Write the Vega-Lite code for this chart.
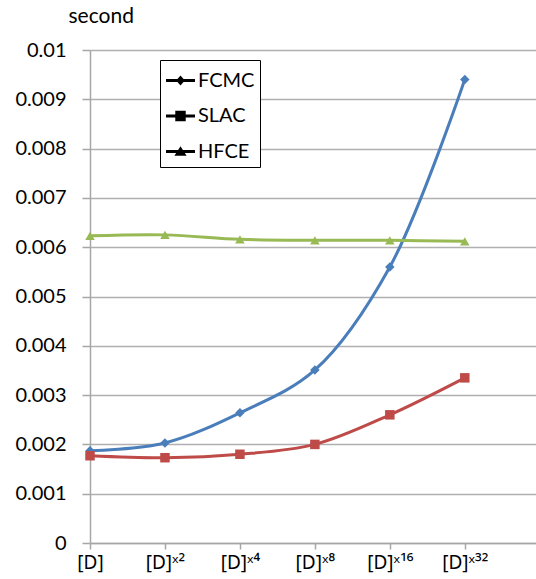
{
  "$schema": "https://vega.github.io/schema/vega-lite/v6.json",
  "width": 446,
  "height": 493,
  "autosize": "none",
  "padding": {"left": 90, "top": 50, "right": 0, "bottom": 36},
  "background": "white",
  "config": {
    "view": {"stroke": null},
    "font": "Lato",
    "axis": {"labelFont": "Lato", "titleFont": "Lato"}
  },
  "data": {
    "values": [
      {"idx": 0, "series": "FCMC", "value": 0.00187},
      {"idx": 1, "series": "FCMC", "value": 0.00203},
      {"idx": 2, "series": "FCMC", "value": 0.00264},
      {"idx": 3, "series": "FCMC", "value": 0.00351},
      {"idx": 4, "series": "FCMC", "value": 0.0056},
      {"idx": 5, "series": "FCMC", "value": 0.0094},
      {"idx": 0, "series": "SLAC", "value": 0.00177},
      {"idx": 1, "series": "SLAC", "value": 0.00173},
      {"idx": 2, "series": "SLAC", "value": 0.0018},
      {"idx": 3, "series": "SLAC", "value": 0.002},
      {"idx": 4, "series": "SLAC", "value": 0.0026},
      {"idx": 5, "series": "SLAC", "value": 0.00335},
      {"idx": 0, "series": "HFCE", "value": 0.00623},
      {"idx": 1, "series": "HFCE", "value": 0.00625},
      {"idx": 2, "series": "HFCE", "value": 0.00616},
      {"idx": 3, "series": "HFCE", "value": 0.00614},
      {"idx": 4, "series": "HFCE", "value": 0.00614},
      {"idx": 5, "series": "HFCE", "value": 0.00612}
    ]
  },
  "encoding": {
    "x": {
      "field": "idx",
      "type": "quantitative",
      "scale": {"domain": [0, 5.95], "nice": false, "zero": false},
      "axis": {
        "title": null,
        "values": [0, 1, 2, 3, 4, 5],
        "labelExpr": "['[D]','[D]ˣ²','[D]ˣ⁴','[D]ˣ⁸','[D]ˣ¹⁶','[D]ˣ³²'][datum.value]",
        "labelFont": "Noto Sans",
        "labelFontSize": 19,
        "labelColor": "black",
        "labelPadding": 4,
        "labelFlush": false,
        "labelOverlap": false,
        "grid": false,
        "domainColor": "#a6a6a6",
        "domainWidth": 1.5,
        "tickColor": "#a6a6a6",
        "tickWidth": 1.5,
        "tickSize": 6
      }
    },
    "y": {
      "field": "value",
      "type": "quantitative",
      "scale": {"domain": [0, 0.01], "nice": false},
      "axis": {
        "title": "second",
        "titleAngle": 0,
        "titleAlign": "left",
        "titleBaseline": "middle",
        "titleX": -22,
        "titleY": -34,
        "titleFontSize": 21,
        "titleFontWeight": "normal",
        "titleColor": "black",
        "values": [0, 0.001, 0.002, 0.003, 0.004, 0.005, 0.006, 0.007, 0.008, 0.009, 0.01],
        "format": ".3~f",
        "labelFontSize": 20,
        "labelColor": "black",
        "labelPadding": 16,
        "grid": true,
        "gridColor": "#b0b0b0",
        "gridWidth": 1.5,
        "domainColor": "#a6a6a6",
        "domainWidth": 1.5,
        "tickColor": "#a6a6a6",
        "tickWidth": 1.5,
        "tickSize": 8
      }
    },
    "color": {
      "field": "series",
      "type": "nominal",
      "scale": {"domain": ["FCMC", "SLAC", "HFCE"], "range": ["#4a7ebb", "#be4b48", "#98b954"]},
      "legend": null
    }
  },
  "layer": [
    {
      "mark": {"type": "line", "interpolate": "catmull-rom", "strokeWidth": 3}
    },
    {
      "mark": {"type": "point", "filled": true, "opacity": 1, "size": 90},
      "encoding": {
        "shape": {
          "field": "series",
          "type": "nominal",
          "scale": {"domain": ["FCMC", "SLAC", "HFCE"], "range": ["diamond", "square", "triangle-up"]},
          "legend": null
        }
      }
    },
    {
      "mark": {"type": "point", "filled": true, "opacity": 1, "size": 0},
      "encoding": {
        "color": {
          "field": "series",
          "type": "nominal",
          "scale": {"domain": ["FCMC", "SLAC", "HFCE"], "range": ["#4a7ebb", "#be4b48", "#98b954"]},
          "legend": {
            "orient": "none",
            "legendX": 70,
            "legendY": 10,
            "title": null,
            "strokeColor": "black",
            "fillColor": "white",
            "padding": 5,
            "symbolSize": 841,
            "rowPadding": 9.5,
            "labelFontSize": 20,
            "labelFont": "Lato",
            "labelColor": "black",
            "labelOffset": 2,
            "encode": {
              "legend": {
                "update": {
                  "stroke": {"value": "black"},
                  "strokeWidth": {"value": 2.5}
                }
              },
              "symbols": {
                "update": {
                  "size": {"value": 841},
                  "stroke": {"value": "transparent"},
                  "strokeWidth": {"value": 0},
                  "opacity": {"value": 1}
                }
              }
            }
          }
        },
        "shape": {
          "field": "series",
          "type": "nominal",
          "scale": {
            "domain": ["FCMC", "SLAC", "HFCE"],
            "range": [
              "M-1,-0.1H1V0.1H-1Z M0,-0.34L0.3,0L0,0.34L-0.3,0Z",
              "M-1,-0.1H1V0.1H-1Z M-0.36,-0.36H0.36V0.36H-0.36Z",
              "M-1,-0.1H1V0.1H-1Z M0,-0.36L0.42,0.3L-0.42,0.3Z"
            ]
          },
          "legend": {
            "orient": "none",
            "legendX": 70,
            "legendY": 10,
            "title": null,
            "strokeColor": "black",
            "fillColor": "white",
            "padding": 5,
            "symbolSize": 841,
            "rowPadding": 9.5,
            "labelFontSize": 20,
            "labelFont": "Lato",
            "labelColor": "black",
            "labelOffset": 2,
            "encode": {
              "legend": {
                "update": {
                  "stroke": {"value": "black"},
                  "strokeWidth": {"value": 2.5}
                }
              },
              "symbols": {
                "update": {
                  "size": {"value": 841},
                  "stroke": {"value": "transparent"},
                  "strokeWidth": {"value": 0},
                  "opacity": {"value": 1}
                }
              }
            }
          }
        }
      }
    }
  ],
  "resolve": {"scale": {"shape": "independent"}}
}
